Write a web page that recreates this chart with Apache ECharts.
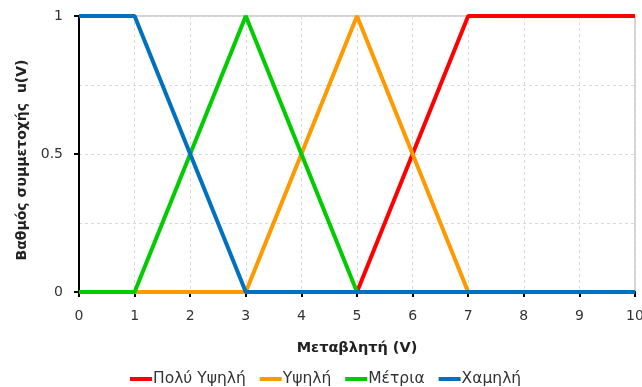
<!DOCTYPE html>
<html>
<head>
<meta charset="utf-8">
<script src="https://cdn.jsdelivr.net/npm/echarts@6/dist/echarts.min.js"></script>
<style>
  html, body { margin: 0; padding: 0; background: #fff; }
  #chart { width: 642px; height: 387px; }
</style>
</head>
<body>
<div id="chart"></div>
<script>
// Membership functions sampled at integer values of V
const xValues = [0, 1, 2, 3, 4, 5, 6, 7, 8, 9, 10];
const veryHigh = [0, 0, 0, 0, 0, 0, 0.5, 1, 1, 1, 1];
const high     = [0, 0, 0, 0, 0.5, 1, 0.5, 0, 0, 0, 0];
const medium   = [0, 0, 0.5, 1, 0.5, 0, 0, 0, 0, 0, 0];
const low      = [1, 1, 0.5, 0, 0, 0, 0, 0, 0, 0, 0];

const seriesNames = ['Πολύ Υψηλή', 'Υψηλή', 'Μέτρια', 'Χαμηλή'];
const seriesColors = ['#FF0000', '#FF9900', '#00CC00', '#0070C0'];
const seriesValues = [veryHigh, high, medium, low];

const font = 'DejaVu Sans, Verdana, sans-serif';
const gridDash = { color: '#d9d9d9', type: [3, 3], width: 1 };

const chart = echarts.init(document.getElementById('chart'), null, { renderer: 'canvas' });

chart.setOption({
  animation: false,
  grid: {
    left: 79, right: 7, top: 16, bottom: 95,
    outerBoundsMode: 'none',
    containLabel: false,
    show: true, borderColor: '#a6a6a6', borderWidth: 1
  },
  legend: {
    top: 371,
    left: 130,
    padding: 0,
    icon: 'rect',
    itemWidth: 22,
    itemHeight: 4,
    itemGap: 14,
    textStyle: { fontFamily: font, fontSize: 15.5, color: '#333', padding: [0, 0, 0, -4] },
    data: seriesNames
  },
  xAxis: {
    type: 'value',
    min: 0, max: 10, interval: 1,
    name: 'Μεταβλητή (V)',
    nameLocation: 'middle',
    nameGap: 49,
    nameTextStyle: { fontFamily: font, fontSize: 14.5, fontWeight: 'bold', color: '#222' },
    axisLine: { show: true, onZero: false, lineStyle: { color: '#000', width: 2 } },
    axisTick: { show: true, inside: false, length: 5, lineStyle: { color: '#000', width: 2 } },
    axisLabel: { fontFamily: font, fontSize: 14, color: '#333', margin: 17 },
    splitLine: { show: true, lineStyle: gridDash }
  },
  yAxis: {
    type: 'value',
    min: 0, max: 1, interval: 0.5,
    name: 'Βαθμός συμμετοχής  u(V)',
    nameLocation: 'middle',
    nameGap: 50,
    nameRotate: 90,
    nameTextStyle: { fontFamily: font, fontSize: 14, fontWeight: 'bold', color: '#222', padding: [0, 12, 0, 0] },
    axisLine: { show: true, lineStyle: { color: '#000', width: 2 } },
    axisTick: { show: true, inside: false, length: 5, lineStyle: { color: '#000', width: 2 } },
    axisLabel: { fontFamily: font, fontSize: 14, color: '#333', margin: 16 },
    splitLine: { show: true, lineStyle: gridDash },
    minorTick: { show: false, splitNumber: 2 },
    minorSplitLine: { show: true, lineStyle: gridDash }
  },
  series: seriesNames.map((name, i) => ({
    name: name,
    type: 'line',
    data: xValues.map((x, j) => [x, seriesValues[i][j]]),
    showSymbol: false,
    symbol: 'none',
    lineStyle: { color: seriesColors[i], width: 4 },
    itemStyle: { color: seriesColors[i] },
    z: 2 + i
  }))
});
</script>
</body>
</html>
